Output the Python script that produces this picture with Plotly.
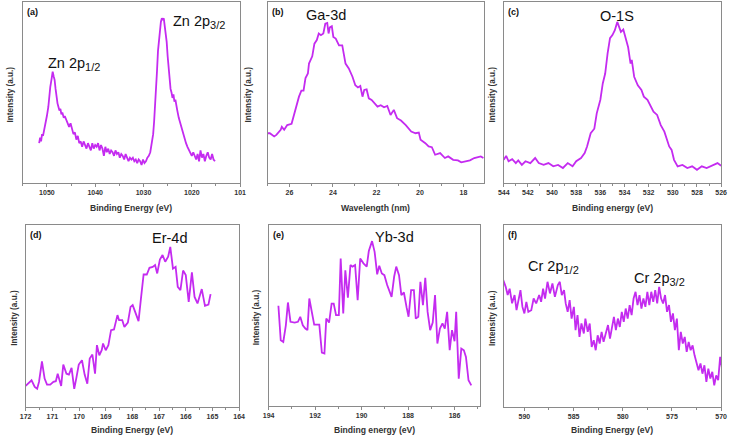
import plotly.graph_objects as go

# ---------------- data ----------------
zn_x = [1051.6,1051.4,1051.2,1051.0,1050.8,1050.5,1050.2,1050.0,1049.7,1049.5,1049.3,1049.0,1048.8,1048.6,1048.4,1048.2,1048.0,1047.8,1047.6,1047.4,1047.2,1047.0,1046.8,1046.5,1046.3,1046.0,1045.7,1045.4,1045.1,1044.8,1044.5,1044.2,1043.9,1043.6,1043.3,1043.0,1042.7,1042.4,1042.1,1041.8,1041.5,1041.2,1040.9,1040.6,1040.3,1040.0,1039.7,1039.4,1039.1,1038.8,1038.5,1038.2,1037.9,1037.6,1037.3,1037.0,1036.7,1036.4,1036.1,1035.8,1035.5,1035.2,1034.9,1034.6,1034.3,1034.0,1033.7,1033.4,1033.1,1032.8,1032.5,1032.2,1031.9,1031.6,1031.3,1031.0,1030.7,1030.4,1030.1,1029.8,1029.5,1029.2,1028.9,1028.6,1028.3,1028.0,1027.8,1027.6,1027.4,1027.2,1027.0,1026.8,1026.6,1026.4,1026.2,1026.0,1025.8,1025.6,1025.4,1025.2,1025.0,1024.8,1024.6,1024.4,1024.2,1024.0,1023.8,1023.6,1023.4,1023.2,1023.0,1022.7,1022.4,1022.1,1021.8,1021.5,1021.2,1020.9,1020.6,1020.3,1020.0,1019.7,1019.4,1019.1,1018.8,1018.5,1018.2,1017.9,1017.6,1017.3,1017.0,1016.7,1016.4,1016.1,1015.8,1015.5,1015.2]
zn_y = [22,25,23,27,26,30,33,37,42,48,53,58,61.5,59,57,52,47,44,42,40,41,38,39,36,37,35,34,31,33,29,27,28,24,26,22,23,20,23,21,19,22,20,18,22,19,21,20,22,18,21,19,15,20,17,19,16,18,17,15,18,16,17,14,16,15,13,16,14,12,14,13,14,12,13,11,13,12,10,13,11,12,14,15,17,21,27,34,42,50,62,73,80,86,89,91,90,91,87,84,78,70,64,56,52,50,47,49,45,46,42,40,36,33,30,27,24,22,20,18,17,15,17,15,13,16,12,18,14,16,12,15,17,14,13,16,13,12]

ga_x = [27.0,26.9,26.7,26.6,26.4,26.35,26.24,26.1,25.9,25.8,25.7,25.56,25.45,25.35,25.26,25.15,25.1,24.95,24.85,24.74,24.65,24.55,24.44,24.35,24.26,24.2,24.14,24.05,23.98,23.87,23.72,23.57,23.42,23.27,23.1,22.97,22.85,22.74,22.64,22.56,22.45,22.35,22.22,22.07,21.95,21.8,21.65,21.5,21.35,21.2,21.05,20.87,20.65,20.4,20.2,20.05,19.97,19.75,19.6,19.45,19.3,19.07,18.85,18.7,18.47,18.25,18.1,17.9,17.7,17.5,17.2,17.08]
ga_y = [27.5,27.5,25.7,26.6,29.4,31,29.4,32,32.7,37.6,41,47.7,51,51,58,60.5,66,70,77,79,82.6,81.7,82.6,88,88.4,82.6,86,86.6,80.7,79.8,76,76,66,63.3,58.7,54,52.8,53.6,47.7,51.4,51.7,46.8,45.9,44,42.2,43,41.8,42.6,37.6,40.4,35.8,34.5,32,28.4,27.5,27.9,23.9,22,20.2,19.8,15.6,16.5,13.8,14.7,12.8,12.5,11.4,12,12.5,13.8,14.7,13.8]

o_x = [544,543.8,543.6,543.3,543.0,542.8,542.5,542.2,541.8,541.4,541.1,540.7,540.3,539.9,539.5,539.1,538.7,538.3,538.0,537.6,537.3,537.1,536.8,536.5,536.3,536.0,535.8,535.6,535.4,535.2,535.0,534.8,534.6,534.4,534.3,534.1,533.9,533.7,533.5,533.4,533.2,532.9,532.6,532.4,532.1,531.8,531.6,531.3,531.0,530.7,530.5,530.3,530.1,529.9,529.6,529.2,528.8,528.4,528.0,527.6,527.2,526.7,526.3,526.0]
o_y = [12.8,15,12,13.2,11,12.5,10,12,11,13.8,11,10,11,9.2,10,8.3,11,9.2,12,13.8,16.5,20.2,27.5,30,38.5,46,55,60.5,71.6,80,81.7,84.4,89,86,83.5,84.8,79,75,66,68,58.7,54,51.4,47.7,45.9,42.2,39.4,37.6,32,28.4,23.9,20.2,18.3,12.8,9.2,10,8.3,9.2,7.3,9.2,8.3,10,11,9.5]

er_x = [172.0,171.9,171.78,171.66,171.57,171.5,171.39,171.29,171.2,171.08,170.96,170.87,170.8,170.67,170.59,170.47,170.38,170.28,170.18,170.1,170.01,169.89,169.79,169.69,169.6,169.5,169.4,169.33,169.24,169.15,169.1,169.0,168.9,168.8,168.69,168.56,168.5,168.38,168.3,168.17,168.07,167.99,167.9,167.77,167.68,167.58,167.46,167.36,167.24,167.15,167.07,166.97,166.87,166.77,166.66,166.58,166.48,166.38,166.3,166.2,166.1,166.0,165.89,165.77,165.67,165.56,165.4,165.28,165.15,165.07]
er_y = [11.6,12.8,14.7,11,10,13.8,25,15.6,12.3,12.3,13.8,14.2,18.3,11.6,23.3,18.3,17.8,21.5,10,16,23.3,25.7,17.8,12.8,26.6,28.8,18.3,34,28.4,31.2,34.9,31.2,34,42.2,42.6,50.5,47.7,47.7,44,46.4,55,56,52.3,47.2,59.6,72.8,72.8,76.5,77,78,73.4,81,83.5,79.8,82.6,88,76,77,66,64.2,75,72.5,57.8,74,60.5,56.9,64.8,55.6,56.3,62]

yb_x = [193.58,193.48,193.37,193.26,193.17,193.06,192.88,192.74,192.64,192.53,192.42,192.33,192.25,192.13,192.04,191.82,191.71,191.6,191.52,191.4,191.29,191.2,191.1,190.98,190.9,190.79,190.7,190.59,190.48,190.39,190.28,190.17,190.06,189.92,189.78,189.69,189.55,189.44,189.33,189.24,189.13,189.02,188.9,188.71,188.6,188.51,188.39,188.29,188.18,188.06,187.98,187.87,187.75,187.67,187.56,187.47,187.36,187.26,187.16,187.05,186.94,186.84,186.74,186.63,186.52,186.42,186.32,186.21,186.11,186.0,185.93,185.82,185.71,185.6,185.51,185.4,185.28]
yb_y = [55.4,36.3,35.4,44.6,57.2,46.5,46.1,46.5,49.3,44.6,42.8,41.9,59.4,52,45,45,29.5,29,48.3,46.1,56.6,56.6,50.2,50.2,81.5,51.1,75,59.8,77.9,77,77.9,58.5,81.5,78.8,77,85.6,91.1,85.2,72.7,77.5,73.2,72.3,66.8,60.3,71.4,77,72.3,61.3,62.7,54.2,49.3,64,64,48.3,49.3,68.6,55.7,70.8,52,41.9,46.1,61.3,34.5,42.8,45.6,42.8,52,30.8,41.9,35.8,52,15.1,31.7,30.8,27.1,14.2,11.4]

cr_x = [592.15,591.9,591.7,591.5,591.25,591.0,590.8,590.6,590.4,590.2,590.0,589.8,589.6,589.3,589.06,588.8,588.5,588.3,588.1,587.9,587.65,587.4,587.15,586.9,586.6,586.4,586.2,585.97,585.8,585.6,585.4,585.2,584.97,584.8,584.6,584.4,584.2,583.96,583.8,583.56,583.36,583.16,582.95,582.75,582.55,582.35,582.15,581.95,581.75,581.5,581.3,581.1,580.9,580.7,580.5,580.3,580.1,579.9,579.7,579.5,579.3,579.1,578.9,578.7,578.5,578.3,578.1,577.9,577.7,577.5,577.3,577.1,576.9,576.7,576.5,576.3,576.1,575.9,575.7,575.5,575.3,575.1,574.9,574.7,574.5,574.3,574.1,573.9,573.7,573.5,573.3,573.1,572.9,572.7,572.5,572.3,572.1,571.9,571.7,571.5,571.3,571.1,570.9,570.7,570.5,570.3,570.1,569.9]
cr_y = [69.7,66,61.5,65,57,61.5,53.2,59.6,64.2,55,51.4,57.8,52.3,53.2,59.6,56.9,61.5,57.8,65,59.6,68.8,62.4,67.9,60.5,67,68.8,61.5,64.2,56.9,52.3,58.7,48.6,55,42.2,50.5,38.5,45.9,40.4,48.6,41.3,45.9,33,36.7,31.2,39.4,34.9,41.3,35.8,39.4,45,37.6,43.1,49.5,42.2,48.6,44,52.3,46.8,54.1,48.6,56,50.5,59.6,63.3,56,61.5,54.1,59.6,55,63.3,56,63.3,57.8,64.2,56.9,66,59.6,56.9,61.5,52.3,56,46.8,51.4,42.2,48.6,31.2,41.3,34.9,38.5,30.3,35.8,31.2,33.9,28.4,24.8,20.2,23.9,18.3,22.9,13.8,21.1,15.6,19.3,11.9,17.4,14.7,27.5,21.1]

panels = [
    dict(x=zn_x, y=zn_y, xrange=[1055, 1010], tickvals=[1050, 1040, 1030, 1020, 1010],
         ticktext=["1050", "1040", "1030", "1020", "101"], minor=5,
         xtitle="Binding Energy (eV)", tag="(a)"),
    dict(x=ga_x, y=ga_y, xrange=[27, 17.05], tickvals=[26, 24, 22, 20, 18],
         ticktext=["26", "24", "22", "20", "18"], minor=1,
         xtitle="Wavelength (nm)", tag="(b)"),
    dict(x=o_x, y=o_y, xrange=[544, 526], tickvals=[544, 542, 540, 538, 536, 534, 532, 530, 528, 526],
         ticktext=["544", "542", "540", "538", "536", "534", "532", "530", "528", "526"], minor=1,
         xtitle="Binding energy (eV)", tag="(c)"),
    dict(x=er_x, y=er_y, xrange=[172, 164], tickvals=[172, 171, 170, 169, 168, 167, 166, 165, 164],
         ticktext=["172", "171", "170", "169", "168", "167", "166", "165", "164"], minor=0.5,
         xtitle="Binding Energy (eV)", tag="(d)"),
    dict(x=yb_x, y=yb_y, xrange=[194, 184.9], tickvals=[194, 192, 190, 188, 186],
         ticktext=["194", "192", "190", "188", "186"], minor=1,
         xtitle="Binding energy (eV)", tag="(e)"),
    dict(x=cr_x, y=cr_y, xrange=[592.1, 570], tickvals=[590, 585, 580, 575, 570],
         ticktext=["590", "585", "580", "575", "570"], minor=2.5,
         xtitle="Binding Energy (eV)", tag="(f)"),
]

SUB = "<sub><span style='font-size:11px'>{}</span></sub>"
peak_labels = [
    (1, "Zn 2p" + SUB.format("1/2"), 1044.3, 66),
    (1, "Zn 2p" + SUB.format("3/2"), 1018.5, 89),
    (2, "Ga-3d", 24.3, 93),
    (3, "O-1S", 534.6, 92.5),
    (4, "Er-4d", 166.6, 93),
    (5, "Yb-3d", 188.6, 93.5),
    (6, "Cr 2p" + SUB.format("1/2"), 587.0, 77),
    (6, "Cr 2p" + SUB.format("3/2"), 576.3, 70.5),
]

# ---------------- layout (pixel geometry) ----------------
W, H = 735, 437
boxes = [  # left, right, top, bottom in px
    (17, 238, 2, 183), (266, 486, 2, 183), (506, 727, 2, 183),
    (20, 237, 225, 407), (267, 482, 225, 406), (506, 727, 225, 407),
]
ytitle_x = [5, 247, 495, 8, 255, 494]
xtitle_y = [208, 208, 208, 430, 430, 430]

LINE = "#C42BF0"
FRAME = "#8a8a8a"
TXT = "#333333"
FONT = "Liberation Sans, Arial, sans-serif"

fig = go.Figure()
annotations = []
for i, (p, (l, r, t, b)) in enumerate(zip(panels, boxes), start=1):
    xa = "x" if i == 1 else f"x{i}"
    ya = "y" if i == 1 else f"y{i}"
    fig.add_trace(go.Scatter(x=p["x"], y=p["y"], mode="lines", xaxis=xa, yaxis=ya,
                             line=dict(color=LINE, width=1.8), showlegend=False,
                             hoverinfo="skip"))
    xdom = [l / W, r / W]
    ydom = [(H - b) / H, (H - t) / H]
    fig.layout[f"xaxis{i}" if i > 1 else "xaxis"] = dict(
        domain=xdom, range=p["xrange"], anchor=ya, showgrid=False, zeroline=False,
        showline=True, linecolor=FRAME, linewidth=1, mirror=True,
        ticks="outside", ticklen=3, tickcolor=FRAME, tickwidth=1,
        tickvals=p["tickvals"], ticktext=p["ticktext"],
        tickfont=dict(size=7, color=TXT, family=FONT, weight="bold"),
        minor=dict(ticks="outside", ticklen=2, tickcolor=FRAME, dtick=p["minor"], showgrid=False),
    )
    fig.layout[f"yaxis{i}" if i > 1 else "yaxis"] = dict(
        domain=ydom, range=[0, 100], anchor=xa, showgrid=False, zeroline=False,
        showline=True, linecolor=FRAME, linewidth=1, mirror=True,
        ticks="", showticklabels=False,
    )
    # axis titles
    annotations.append(dict(text=p["xtitle"], xref="paper", yref="paper",
                            x=(l + r) / 2 / W, y=(H - xtitle_y[i - 1]) / H,
                            xanchor="center", yanchor="middle", showarrow=False,
                            font=dict(size=8.6, color=TXT, family=FONT, weight="bold")))
    annotations.append(dict(text="Intensity (a.u.)", xref="paper", yref="paper",
                            x=ytitle_x[i - 1] / W, y=(H - (t + b) / 2 - 2) / H, textangle=-90,
                            xanchor="center", yanchor="middle", showarrow=False,
                            font=dict(size=8.2, color=TXT, family=FONT, weight="bold")))
    # panel tag
    annotations.append(dict(text=p["tag"], xref=f"{xa} domain", yref=f"{ya} domain",
                            x=0.01, y=0.985, xanchor="left", yanchor="top", showarrow=False,
                            font=dict(size=9, color="#111111", family=FONT, weight="bold")))

for i, txt, xv, yv in peak_labels:
    xa = "x" if i == 1 else f"x{i}"
    ya = "y" if i == 1 else f"y{i}"
    annotations.append(dict(text=txt, xref=xa, yref=ya, x=xv, y=yv, showarrow=False,
                            xanchor="center", yanchor="middle",
                            font=dict(size=14.5, color="#111111", family=FONT)))

fig.update_layout(width=W, height=H, margin=dict(l=0, r=0, t=0, b=0),
                  paper_bgcolor="white", plot_bgcolor="white",
                  annotations=annotations, showlegend=False)

fig.write_html("out.html", config={"displayModeBar": False},
               post_script="document.body.style.margin='0';")
